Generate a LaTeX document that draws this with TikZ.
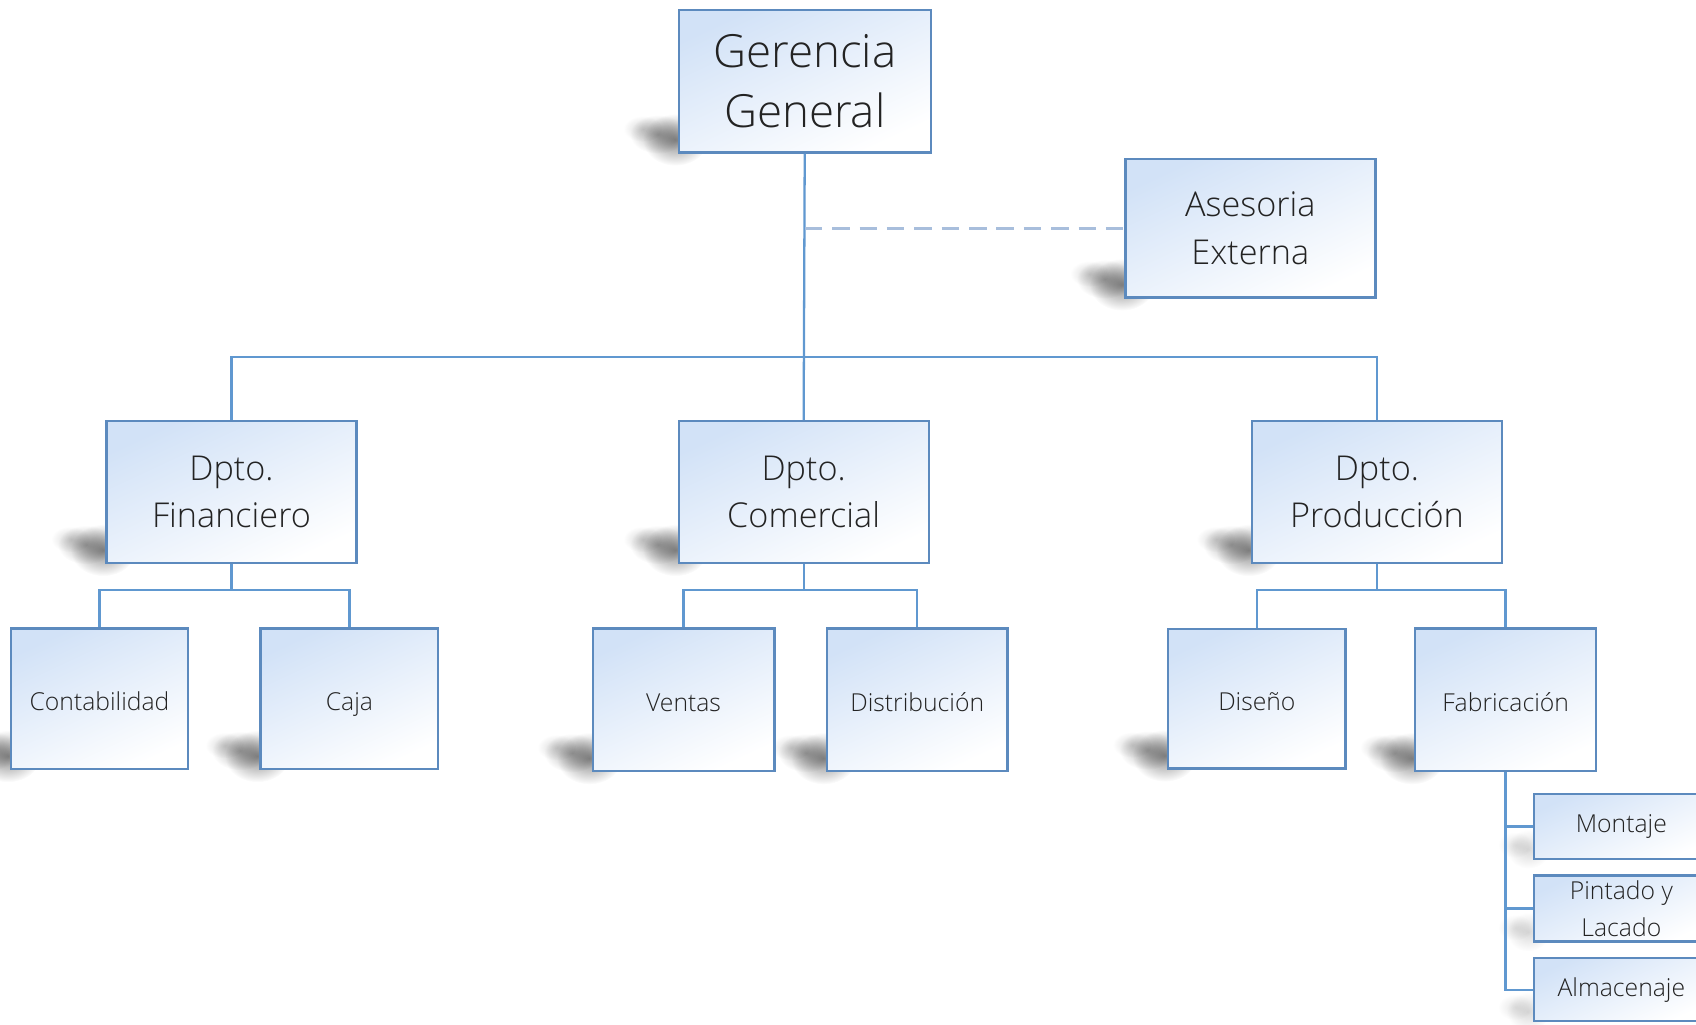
\documentclass[tikz,border=0pt]{standalone}
\usepackage{fontspec}
\setmainfont{Open Sans Light}
\usetikzlibrary{backgrounds,positioning,calc,fadings}

\definecolor{boxline}{RGB}{92,138,190}
\definecolor{wirecol}{RGB}{96,152,208}
\definecolor{boxtop}{RGB}{210,226,247}
\definecolor{dashcol}{RGB}{168,190,220}
\definecolor{txt}{RGB}{35,35,35}

\tikzfading[name=blob, inner color=transparent!0, outer color=transparent!100]

\tikzset{
    unit/.style={draw=boxline, line width=0.6pt, top color=boxtop, bottom color=white, shading angle=25,
                 text=txt, align=center, inner sep=0pt},
    head/.style={unit, minimum width=2.33cm, minimum height=1.32cm, font=\fontsize{12}{16}\selectfont},
    dept/.style={unit, minimum width=2.31cm, minimum height=1.31cm, font=\fontsize{9}{12.5}\selectfont},
    sect/.style={unit, minimum width=1.64cm, minimum height=1.30cm, text height=1.6ex, text depth=0.45ex,
                 font=\fontsize{6.5}{9}\selectfont},
    task/.style={unit, minimum width=1.62cm, minimum height=0.60cm, font=\fontsize{6.5}{9.6}\selectfont},
    wire/.style={draw=wirecol, line width=0.6pt},
    blot/.style={fill=black, path fading=blob, fill opacity=#1}
}

\begin{document}
\begin{tikzpicture}[x=0.01cm, y=-0.01cm]
    \useasboundingbox (0,0) rectangle (1568,947);

    \node[head] (gg) at (744,75) {Gerencia\\General};
    \node[dept, minimum height=1.28cm] (ase) at (1156,211) {Asesoria\\Externa};

    \node[dept] (fin) at (214,455) {Dpto.\\Financiero};
    \node[dept] (com) at (743,455) {Dpto.\\Comercial};
    \node[dept] (pro) at (1273,455) {Dpto.\\Producción};

    \node[sect, minimum width=1.63cm] (con) at (92,646) {Contabilidad};
    \node[sect] (caja) at (323,646) {Caja};
    \node[sect, minimum width=1.68cm, minimum height=1.32cm] (ven) at (632,647) {Ventas};
    \node[sect, minimum width=1.67cm, minimum height=1.32cm] (dis) at (848,647) {Distribución};
    \node[sect, minimum height=1.29cm] (dse) at (1162,646) {Diseño};
    \node[sect, minimum width=1.67cm, minimum height=1.32cm] (fab) at (1392,647) {Fabricación};

    \node[task] (mon) at (1499,764) {Montaje};
    \node[task, minimum height=0.61cm] (pin) at (1499,840) {Pintado y\\Lacado};
    \node[task, minimum height=0.58cm] (alm) at (1499,915) {Almacenaje};

    % connectors
    \coordinate (bus) at (744,330);
    \draw[wire] (gg.south) -- (com.north);
    \draw[wire] (fin.north) |- (bus) -| (pro.north);
    \draw[draw=dashcol, line width=0.9pt, dash pattern=on 4.6pt off 2.6pt] (gg.south |- ase.west) -- (ase.west);

    \draw[wire] (fin.south) -- ([yshift=-0.24cm]fin.south);
    \draw[wire] (con.north) |- ([yshift=-0.24cm]fin.south) -| (caja.north);
    \draw[wire] (com.south) -- ([yshift=-0.24cm]com.south);
    \draw[wire] (ven.north) |- ([yshift=-0.24cm]com.south) -| (dis.north);
    \draw[wire] (pro.south) -- ([yshift=-0.24cm]pro.south);
    \draw[wire] (dse.north) |- ([yshift=-0.24cm]pro.south) -| (fab.north);

    \draw[wire] (fab.south) |- (alm.west);
    \draw[wire] (fab.south |- mon.west) -- (mon.west);
    \draw[wire] (fab.south |- pin.west) -- (pin.west);

    % page and shadows behind the boxes
    \begin{scope}[on background layer]
        \fill[white] (0,0) rectangle (1568,947);
        \foreach \n in {gg,ase,fin,com,pro,con,caja,ven,dis,dse,fab} {
            \fill[blot=0.45] ([shift={(-2,-13)}]\n.south west) ellipse [x radius=0.30cm, y radius=0.24cm];
            \fill[blot=0.3] ([shift={(-18,-18)}]\n.south west) ellipse [x radius=0.26cm, y radius=0.18cm];
            \fill[blot=0.16] ([shift={(-32,-23)}]\n.south west) ellipse [x radius=0.18cm, y radius=0.12cm];
        }
        \foreach \n in {mon,pin,alm} {
            \fill[blot=0.15] ([shift={(-4,-10)}]\n.south west) ellipse [x radius=0.2cm, y radius=0.18cm];
            \fill[blot=0.1] ([shift={(-16,-14)}]\n.south west) ellipse [x radius=0.16cm, y radius=0.12cm];
        }
    \end{scope}
\end{tikzpicture}
\end{document}
